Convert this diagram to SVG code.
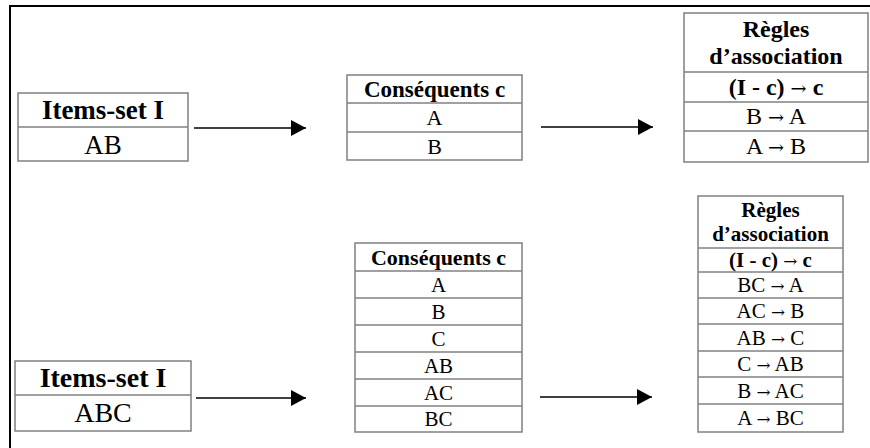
<svg xmlns="http://www.w3.org/2000/svg" width="870" height="448" viewBox="0 0 870 448">
<style>
.frame{fill:none;stroke:#000;stroke-width:2}
.box{fill:#fff;stroke:#808080;stroke-width:1.5}
.div{stroke:#808080;stroke-width:1.5}
.arr{stroke:#000;stroke-width:1.5;fill:none}
text{font-family:"Liberation Serif","Times New Roman",serif;fill:#000;text-anchor:middle}
.b{font-weight:bold}
.r{font-family:"DejaVu Serif",serif;font-weight:normal;font-size:0.8em}
</style>
<defs>
<marker id="ah" markerUnits="userSpaceOnUse" markerWidth="16" markerHeight="18" refX="15" refY="8" orient="auto">
<path d="M0,0 L15,8 L0,16 z" fill="#000"/>
</marker>
</defs>
<path class="frame" d="M10,448 V6 H870"/>
<g id="items1">
<rect class="box" x="18" y="93" width="170" height="68"/>
<line class="div" x1="18" y1="127" x2="188" y2="127"/>
<text class="b" x="103" y="119" font-size="27">Items-set I</text>
<text x="103" y="154" font-size="27">AB</text>
</g>
<g id="cons1">
<rect class="box" x="347" y="75" width="175" height="85"/>
<line class="div" x1="347" y1="103" x2="522" y2="103"/>
<line class="div" x1="347" y1="132" x2="522" y2="132"/>
<text class="b" x="434.5" y="97" font-size="23">Conséquents c</text>
<text x="434.5" y="125" font-size="22">A</text>
<text x="434.5" y="154" font-size="22">B</text>
</g>
<g id="regles1">
<rect class="box" x="684" y="13" width="184" height="149"/>
<line class="div" x1="684" y1="72" x2="868" y2="72"/>
<line class="div" x1="684" y1="102" x2="868" y2="102"/>
<line class="div" x1="684" y1="131" x2="868" y2="131"/>
<text class="b" x="776" y="37" font-size="24">Règles</text>
<text class="b" x="776" y="64" font-size="24">d’association</text>
<text class="b" x="776" y="95" font-size="24">(I - c) <tspan class="r">→</tspan> c</text>
<text x="776" y="124" font-size="24">B <tspan class="r">→</tspan> A</text>
<text x="776" y="154" font-size="24">A <tspan class="r">→</tspan> B</text>
</g>
<g id="items2">
<rect class="box" x="15" y="361" width="176" height="70"/>
<line class="div" x1="15" y1="395" x2="191" y2="395"/>
<text class="b" x="103" y="387" font-size="28">Items-set I</text>
<text x="103" y="422" font-size="28">ABC</text>
</g>
<g id="cons2">
<rect class="box" x="355" y="243" width="167" height="189"/>
<line class="div" x1="355" y1="271" x2="522" y2="271"/>
<line class="div" x1="355" y1="298" x2="522" y2="298"/>
<line class="div" x1="355" y1="325" x2="522" y2="325"/>
<line class="div" x1="355" y1="352" x2="522" y2="352"/>
<line class="div" x1="355" y1="379" x2="522" y2="379"/>
<line class="div" x1="355" y1="406" x2="522" y2="406"/>
<text class="b" x="438.5" y="265" font-size="22">Conséquents c</text>
<text x="438.5" y="292" font-size="21">A</text>
<text x="438.5" y="319" font-size="21">B</text>
<text x="438.5" y="346" font-size="21">C</text>
<text x="438.5" y="373" font-size="21">AB</text>
<text x="438.5" y="400" font-size="21">AC</text>
<text x="438.5" y="426" font-size="21">BC</text>
</g>
<g id="regles2">
<rect class="box" x="698" y="196" width="145" height="236"/>
<line class="div" x1="698" y1="248" x2="843" y2="248"/>
<line class="div" x1="698" y1="272" x2="843" y2="272"/>
<line class="div" x1="698" y1="298" x2="843" y2="298"/>
<line class="div" x1="698" y1="324" x2="843" y2="324"/>
<line class="div" x1="698" y1="351" x2="843" y2="351"/>
<line class="div" x1="698" y1="377" x2="843" y2="377"/>
<line class="div" x1="698" y1="404" x2="843" y2="404"/>
<text class="b" x="770.5" y="217" font-size="21">Règles</text>
<text class="b" x="770.5" y="241" font-size="21">d’association</text>
<text class="b" x="770.5" y="267" font-size="21">(I - c) <tspan class="r">→</tspan> c</text>
<text x="770.5" y="292" font-size="21">BC <tspan class="r">→</tspan> A</text>
<text x="770.5" y="318" font-size="21">AC <tspan class="r">→</tspan> B</text>
<text x="770.5" y="345" font-size="21">AB <tspan class="r">→</tspan> C</text>
<text x="770.5" y="371" font-size="21">C <tspan class="r">→</tspan> AB</text>
<text x="770.5" y="398" font-size="21">B <tspan class="r">→</tspan> AC</text>
<text x="770.5" y="425" font-size="21">A <tspan class="r">→</tspan> BC</text>
</g>
<g id="connectors">
<line class="arr" x1="194" y1="128" x2="306" y2="128" marker-end="url(#ah)"/>
<line class="arr" x1="541" y1="127" x2="653" y2="127" marker-end="url(#ah)"/>
<line class="arr" x1="196" y1="398" x2="306" y2="398" marker-end="url(#ah)"/>
<line class="arr" x1="540" y1="397" x2="652" y2="397" marker-end="url(#ah)"/>
</g>
</svg>
